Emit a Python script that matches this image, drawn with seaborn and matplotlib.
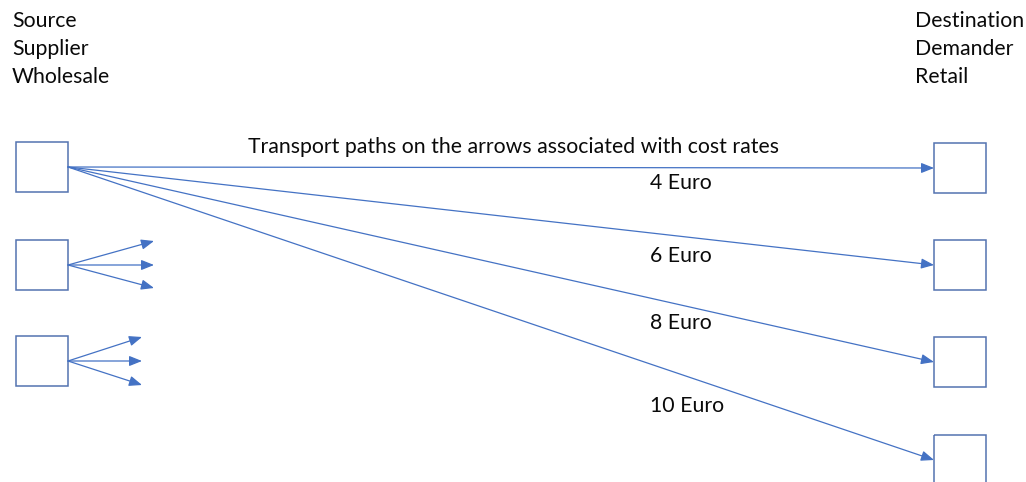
import matplotlib
matplotlib.use("Agg")
import matplotlib.pyplot as plt
import matplotlib.patches as mpatches
import seaborn as sns

sns.set_theme(style="white")
plt.rcParams['font.family'] = ['Lato', 'DejaVu Sans']

# Data
source_labels = ["Source", "Supplier", "Wholesale"]
dest_labels = ["Destination", "Demander", "Retail"]
title_text = "Transport paths on the arrows associated with cost rates"
cost_labels = ["4 Euro", "6 Euro", "8 Euro", "10 Euro"]

# Layout (pixel coordinates)
W, H = 1026, 482
src_boxes_y = [142, 240, 336]      # top of source boxes
dst_boxes_y = [143, 240, 337, 435]  # top of destination boxes
box_w, box_h = 52, 50
src_x, dst_x = 16, 934
stub_ends = [  # short arrows from boxes 2 and 3
    [(154, 241), (154, 265), (154, 288)],
    [(142, 337), (142, 361), (142, 385)],
]
cost_pos_y = [183, 256, 323, 406]

blue = "#4472C4"
edge = "#5473b0"

fig = plt.figure(figsize=(W / 100, H / 100), dpi=100)
ax = fig.add_axes([0, 0, 1, 1])
ax.set_xlim(0, W)
ax.set_ylim(H, 0)
ax.axis("off")

for y in src_boxes_y:
    ax.add_patch(mpatches.Rectangle((src_x, y), box_w, box_h, fill=False,
                                    edgecolor=edge, linewidth=1.1))
for y in dst_boxes_y:
    ax.add_patch(mpatches.Rectangle((dst_x, y), box_w, box_h, fill=False,
                                    edgecolor=edge, linewidth=1.1, clip_on=True))

arrow_kw = dict(arrowstyle="-|>,head_length=0.55,head_width=0.22", color=blue,
                lw=0.9, mutation_scale=14, shrinkA=0, shrinkB=0)

origin = (src_x + box_w, src_boxes_y[0] + box_h / 2)
for y in dst_boxes_y:
    ax.annotate("", xy=(dst_x, y + box_h / 2), xytext=origin, arrowprops=arrow_kw)

for i, ends in enumerate(stub_ends):
    o = (src_x + box_w, src_boxes_y[i + 1] + box_h / 2)
    for e in ends:
        ax.annotate("", xy=e, xytext=o, arrowprops=arrow_kw)

fs = 15.3
tc = "#0a0a0a"
for i, t in enumerate(source_labels):
    ax.text(12, 21 + 28 * i, t, fontsize=fs, ha="left", va="center", color=tc)
for i, t in enumerate(dest_labels):
    ax.text(915, 21 + 28 * i, t, fontsize=fs, ha="left", va="center", color=tc)

ax.text(513, 147, title_text, fontsize=fs, ha="center", va="center", color=tc)
for t, y in zip(cost_labels, cost_pos_y):
    ax.text(650, y, t, fontsize=fs, ha="left", va="center", color=tc)

fig.savefig("out.png", dpi=100, facecolor="white")
